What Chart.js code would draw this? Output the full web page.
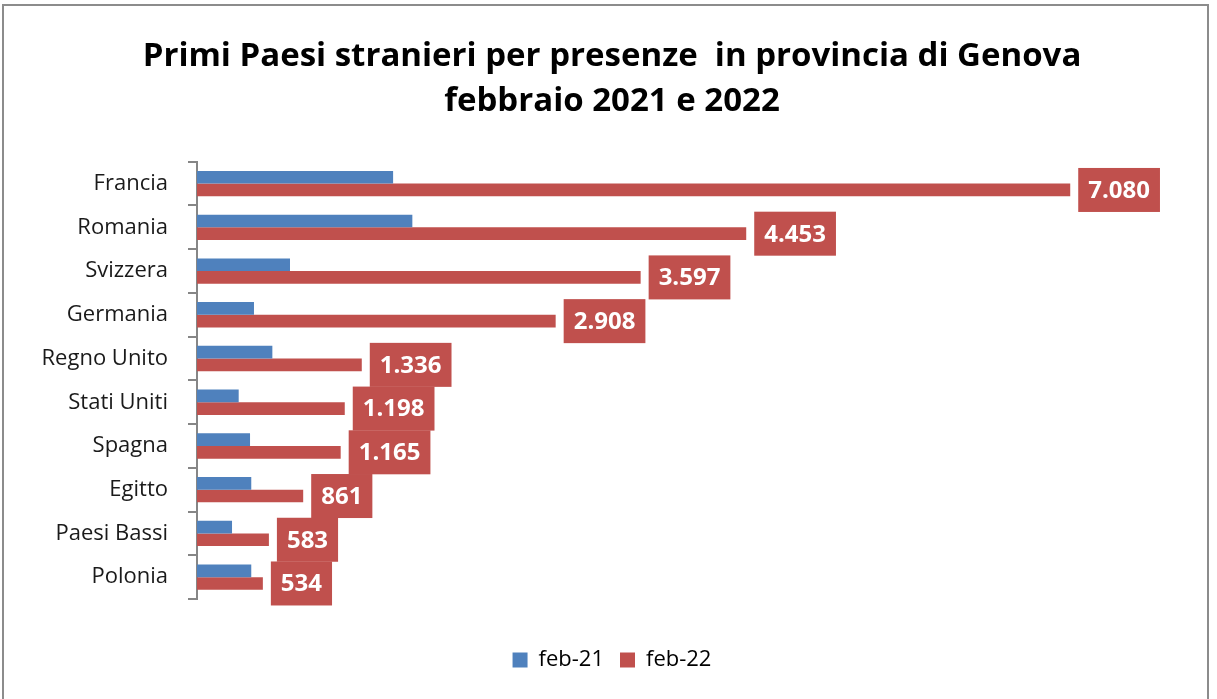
<!DOCTYPE html>
<html>
<head>
<meta charset="utf-8">
<script src="https://cdn.jsdelivr.net/npm/chart.js@4"></script>
<style>
  html, body { margin: 0; padding: 0; background: #fff; }
  #wrap { position: absolute; left: 0; top: 0; width: 1217px; height: 699px; }
  #frame { position: absolute; left: 2px; top: 4px; width: 1207px; height: 720px; border: 2px solid #8c8c8c; box-sizing: border-box; }
</style>
</head>
<body>
<div id="wrap">
  <div id="frame"></div>
  <canvas id="myChart" width="1217" height="699"></canvas>
</div>
<script>
var paesi = ['Francia', 'Romania', 'Svizzera', 'Germania', 'Regno Unito', 'Stati Uniti', 'Spagna', 'Egitto', 'Paesi Bassi', 'Polonia'];
var feb21 = [1590, 1746, 754, 462, 611, 338, 430, 440, 284, 440];
var feb22 = [7080, 4453, 3597, 2908, 1336, 1198, 1165, 861, 583, 534];
var serie = ['feb-21', 'feb-22'];

var FONT = '"Open Sans", Lato, sans-serif';

// formato italiano 7.080
function fmt(v) {
    return String(v).replace(/\B(?=(\d{3})+(?!\d))/g, '.');
}

// etichette rosse a destra delle barre feb-22
var boxLabels = {
    id: 'boxLabels',
    afterDatasetsDraw: function (chart) {
        var ctx = chart.ctx;
        var meta = chart.getDatasetMeta(1);
        ctx.save();
        ctx.font = 'bold 24px ' + FONT;
        ctx.textBaseline = 'middle';
        ctx.textAlign = 'left';
        meta.data.forEach(function (bar, i) {
            var txt = fmt(feb22[i]);
            var w = ctx.measureText(txt).width + 20;
            var h = 44;
            var x = bar.x + 8;
            var y = bar.y - h / 2;
            ctx.fillStyle = '#C0504D';
            ctx.fillRect(x, y, w, h);
            ctx.fillStyle = '#ffffff';
            ctx.fillText(txt, x + 10, bar.y + 1);
        });
        ctx.restore();
    }
};

var ctx = document.getElementById('myChart').getContext('2d');
var myChart = new Chart(ctx, {
    type: 'bar',
    data: {
        labels: paesi,
        datasets: [
            {
                label: serie[0],
                backgroundColor: '#4F81BD',
                data: feb21
            },
            {
                label: serie[1],
                backgroundColor: '#C0504D',
                data: feb22
            }
        ]
    },
    options: {
        indexAxis: 'y',
        responsive: false,
        animation: false,
        layout: { padding: { left: 7, right: 0, top: 0, bottom: 18 } },
        datasets: {
            bar: { categoryPercentage: 0.58, barPercentage: 1.0 }
        },
        plugins: {
            title: {
                display: true,
                text: ['Primi Paesi stranieri per presenze  in provincia di Genova', 'febbraio 2021 e 2022'],
                color: '#000',
                font: { family: FONT, size: 33, weight: 'bold', lineHeight: 1.36 },
                padding: { top: 34, bottom: 38 }
            },
            legend: {
                position: 'bottom',
                labels: {
                    boxWidth: 15,
                    boxHeight: 15,
                    color: '#000',
                    padding: 16,
                    font: { family: FONT, size: 22 }
                }
            },
            tooltip: { enabled: false }
        },
        scales: {
            x: {
                min: 0,
                max: 8270,
                ticks: { display: false },
                grid: { display: false },
                border: { display: false },
                afterFit: function (scale) { scale.height = 34; }
            },
            y: {
                grid: {
                    offset: true,
                    drawOnChartArea: false,
                    tickLength: 9,
                    color: '#868686',
                    lineWidth: 2
                },
                border: { color: '#868686', width: 2 },
                ticks: {
                    color: '#1a1a1a',
                    padding: 20,
                    font: { family: FONT, size: 22 }
                },
                afterFit: function (scale) { scale.width = 190; }
            }
        }
    },
    plugins: [boxLabels]
});
</script>
</body>
</html>
